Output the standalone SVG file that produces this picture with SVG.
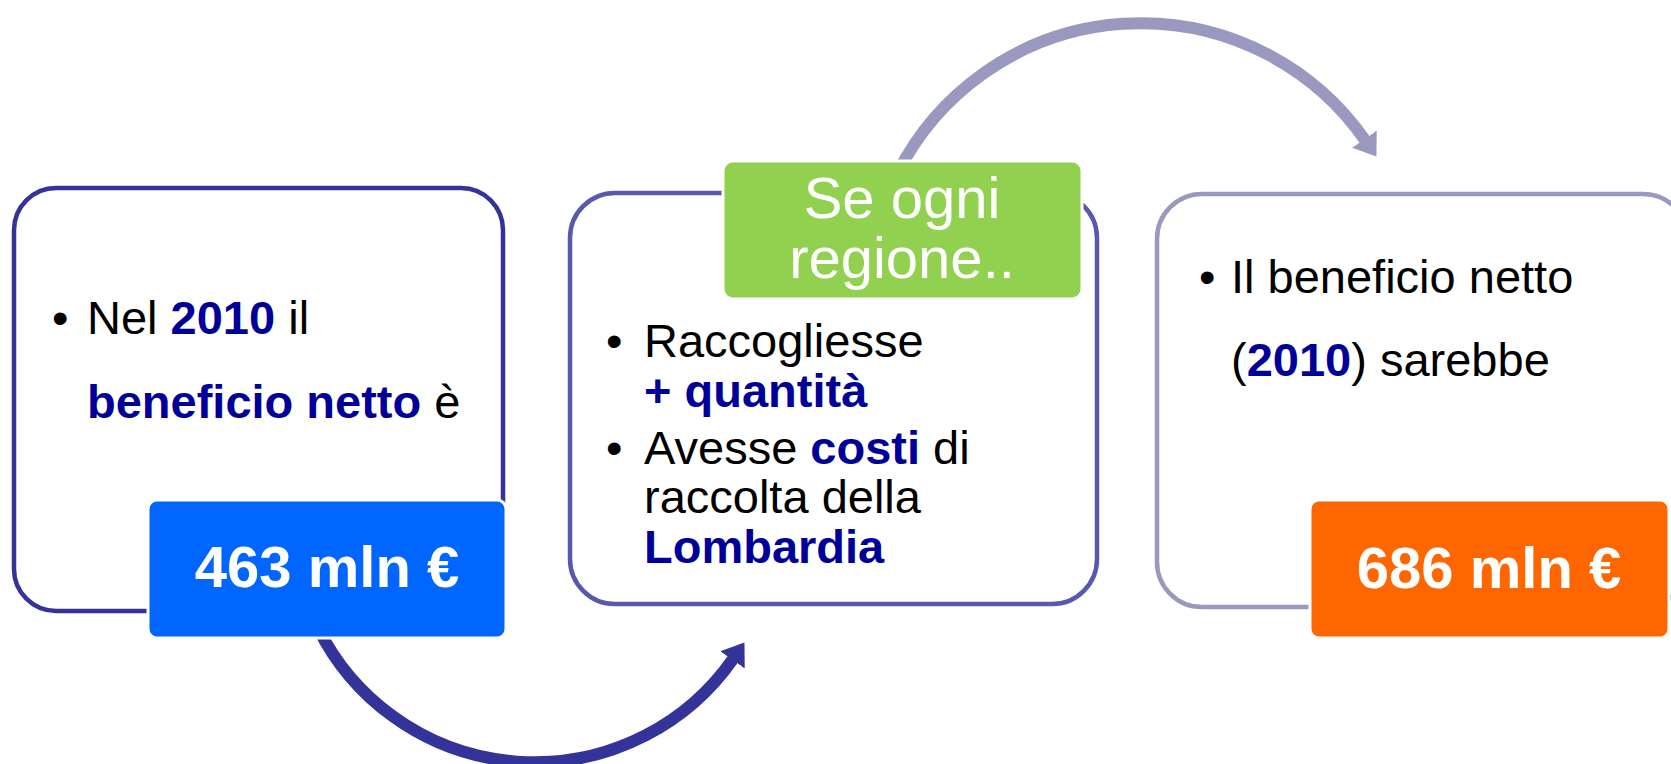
<svg xmlns="http://www.w3.org/2000/svg" width="1671" height="764" viewBox="0 0 1671 764">
  <style>
    text { font-family: "Liberation Sans", Arial, sans-serif; }
    .body { font-size: 47px; fill: #000000; }
    .mid { font-size: 47px; fill: #000000; }
    .hl { font-weight: bold; fill: #000099; }
    .big { font-size: 58px; font-weight: bold; fill: #ffffff; text-anchor: middle; }
    .green { font-size: 58px; fill: #ffffff; text-anchor: middle; }
    .frame { fill: #ffffff; stroke-width: 4.5; }
    .tag { stroke: #ffffff; stroke-width: 3; }
    .arc { fill: none; stroke-width: 12; }
  </style>
  <defs>
    <marker id="headDark" markerUnits="userSpaceOnUse" markerWidth="24" markerHeight="32" refX="1" refY="15" orient="auto" viewBox="0 0 24 32">
      <path d="M0,0 L21,15 L0,30 Z" fill="#333399"/>
    </marker>
    <marker id="headLight" markerUnits="userSpaceOnUse" markerWidth="24" markerHeight="32" refX="1" refY="15" orient="auto" viewBox="0 0 24 32">
      <path d="M0,0 L21,15 L0,30 Z" fill="#9999C0"/>
    </marker>
  </defs>

  <g id="connectors">
    <path class="arc" d="M 318 628 A 242 242 0 0 0 733 659" stroke="#333399" marker-end="url(#headDark)"/>
    <path class="arc" d="M 898 172 A 273 273 0 0 1 1365 140" stroke="#9999C0" marker-end="url(#headLight)"/>
  </g>

  <g id="node-current">
    <rect class="frame" x="14" y="188" width="489" height="423" rx="42" stroke="#333399"/>
    <text class="body" x="52" y="334">•</text>
    <text class="body" x="87" y="334">Nel <tspan class="hl">2010</tspan> il</text>
    <text class="body" x="87" y="418"><tspan class="hl">beneficio netto</tspan> è</text>
    <rect class="tag" x="148" y="500" width="358" height="138" rx="9" fill="#0066FF"/>
    <text class="big" x="327" y="587">463 mln €</text>
  </g>

  <g id="node-scenario">
    <rect class="frame" x="570" y="193" width="527" height="411" rx="45" stroke="#5858AC"/>
    <rect class="tag" x="723" y="161" width="359" height="138" rx="10" fill="#92D050"/>
    <text class="green" x="902" y="218">Se ogni</text>
    <text class="green" x="902" y="278">regione..</text>
    <text class="mid" x="606" y="357">•</text>
    <text class="mid" x="644" y="357">Raccogliesse</text>
    <text class="mid hl" x="644" y="407">+ quantità</text>
    <text class="mid" x="606" y="464">•</text>
    <text class="mid" x="644" y="464">Avesse <tspan class="hl">costi</tspan> di</text>
    <text class="mid" x="644" y="513">raccolta della</text>
    <text class="mid hl" x="644" y="563">Lombardia</text>
  </g>

  <g id="node-result">
    <rect class="frame" x="1157" y="194" width="531" height="413" rx="45" stroke="#9999C0"/>
    <text class="body" x="1199" y="293">•</text>
    <text class="body" x="1231" y="293">Il beneficio netto</text>
    <text class="body" x="1231" y="376">(<tspan class="hl">2010</tspan>) sarebbe</text>
    <rect class="tag" x="1310" y="500" width="359" height="138" rx="9" fill="#FF6600"/>
    <text class="big" x="1489" y="588">686 mln €</text>
  </g>
</svg>
